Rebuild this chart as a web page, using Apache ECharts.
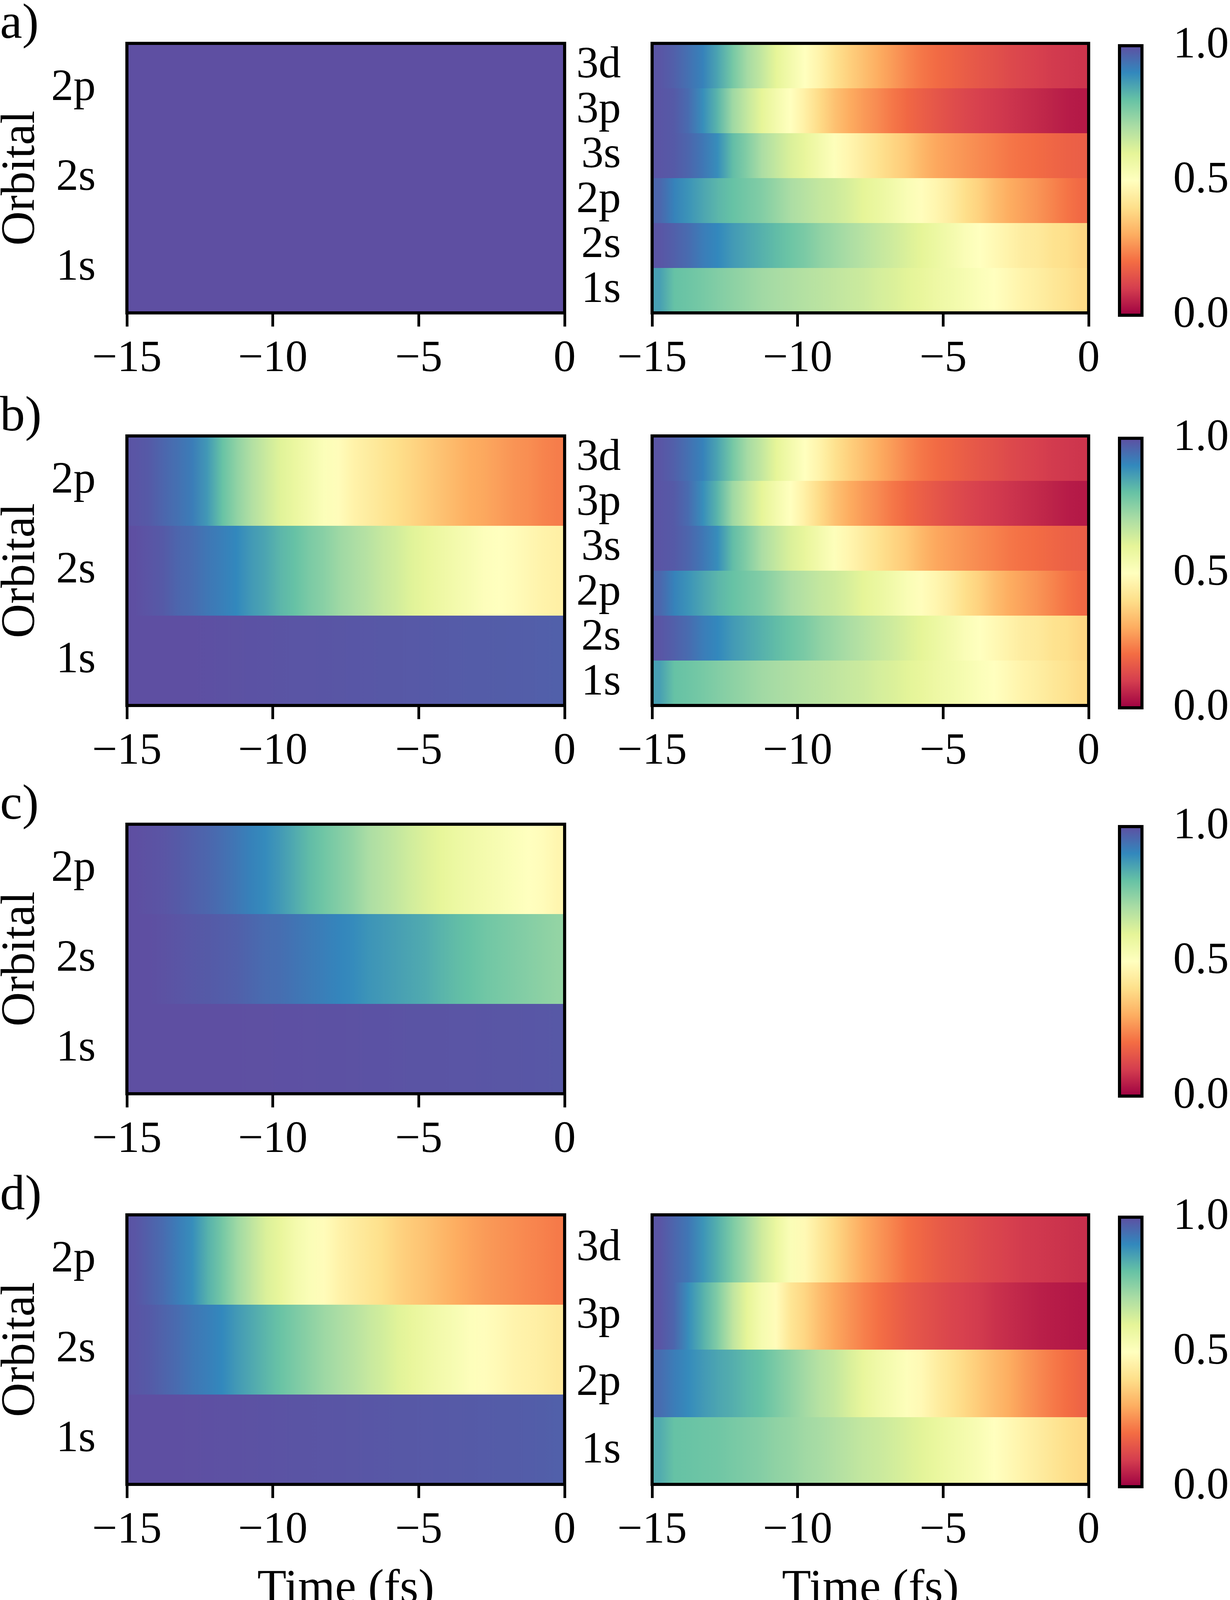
<!DOCTYPE html>
<html>
<head>
<meta charset="utf-8">
<script src="https://cdn.jsdelivr.net/npm/echarts@6/dist/echarts.min.js"></script>
<style>
html, body { margin: 0; padding: 0; background: #fff; }
#chart { width: 3150px; height: 4137px; }
</style>
</head>
<body>
<div id="chart"></div>
<script>
// sample times (fs), read every 0.5 fs
var times = [-14.75, -14.25, -13.75, -13.25, -12.75, -12.25, -11.75, -11.25, -10.75, -10.25,
             -9.75, -9.25, -8.75, -8.25, -7.75, -7.25, -6.75, -6.25, -5.75, -5.25,
             -4.75, -4.25, -3.75, -3.25, -2.75, -2.25, -1.75, -1.25, -0.75, -0.25];
var orbLeft = ['1s', '2s', '2p'];
var orbRight = ['1s', '2s', '2p', '3s', '3p', '3d'];
var orbRightD = ['1s', '2p', '3p', '3d'];
var colorTicks = [0, 0.5, 1];

// a) left
var aL1s = [1, 1, 1, 1, 1, 1, 1, 1, 1, 1, 1, 1, 1, 1, 1, 1, 1, 1, 1, 1, 1, 1, 1, 1, 1, 1, 1, 1, 1, 1];
var aL2s = [1, 1, 1, 1, 1, 1, 1, 1, 1, 1, 1, 1, 1, 1, 1, 1, 1, 1, 1, 1, 1, 1, 1, 1, 1, 1, 1, 1, 1, 1];
var aL2p = [1, 1, 1, 1, 1, 1, 1, 1, 1, 1, 1, 1, 1, 1, 1, 1, 1, 1, 1, 1, 1, 1, 1, 1, 1, 1, 1, 1, 1, 1];

// a) right (b) right reads the same)
var aR1s = [0.86, 0.80, 0.79, 0.775, 0.76, 0.745, 0.73, 0.715, 0.705, 0.695, 0.685, 0.675, 0.665, 0.655, 0.645,
            0.63, 0.62, 0.605, 0.59, 0.57, 0.555, 0.535, 0.515, 0.50, 0.48, 0.46, 0.445, 0.425, 0.41, 0.39];
var aR2s = [0.99, 0.97, 0.95, 0.92, 0.90, 0.87, 0.85, 0.83, 0.81, 0.79, 0.77, 0.74, 0.72, 0.70, 0.68,
            0.66, 0.64, 0.62, 0.60, 0.575, 0.55, 0.52, 0.50, 0.48, 0.46, 0.44, 0.43, 0.41, 0.40, 0.38];
var aR2p = [0.96, 0.91, 0.88, 0.85, 0.82, 0.80, 0.78, 0.76, 0.73, 0.70, 0.68, 0.66, 0.645, 0.625, 0.60,
            0.58, 0.555, 0.525, 0.495, 0.47, 0.44, 0.40, 0.37, 0.33, 0.30, 0.28, 0.26, 0.235, 0.21, 0.19];
var aR3s = [0.99, 0.98, 0.96, 0.93, 0.89, 0.81, 0.76, 0.70, 0.66, 0.62, 0.59, 0.55, 0.51, 0.47, 0.44,
            0.41, 0.38, 0.355, 0.32, 0.29, 0.275, 0.26, 0.245, 0.23, 0.215, 0.205, 0.195, 0.185, 0.175, 0.17];
var aR3p = [0.99, 0.98, 0.95, 0.89, 0.82, 0.72, 0.66, 0.60, 0.55, 0.50, 0.45, 0.39, 0.34, 0.30, 0.27,
            0.245, 0.215, 0.19, 0.17, 0.15, 0.135, 0.12, 0.105, 0.095, 0.085, 0.075, 0.065, 0.055, 0.045, 0.04];
var aR3d = [0.99, 0.97, 0.94, 0.91, 0.85, 0.78, 0.71, 0.66, 0.60, 0.55, 0.50, 0.46, 0.41, 0.37, 0.335,
            0.30, 0.27, 0.24, 0.215, 0.195, 0.18, 0.165, 0.15, 0.14, 0.125, 0.115, 0.105, 0.095, 0.09, 0.085];

// b) left
var bL1s = [1, 1, 1, 1, 1, 0.998, 0.996, 0.995, 0.994, 0.993, 0.992, 0.99, 0.99, 0.989, 0.988,
            0.987, 0.986, 0.985, 0.984, 0.983, 0.982, 0.98, 0.979, 0.978, 0.977, 0.976, 0.975, 0.974, 0.972, 0.97];
var bL2s = [1, 0.99, 0.98, 0.96, 0.95, 0.93, 0.915, 0.90, 0.87, 0.85, 0.82, 0.80, 0.77, 0.75, 0.72,
            0.70, 0.68, 0.655, 0.635, 0.61, 0.59, 0.57, 0.55, 0.53, 0.51, 0.50, 0.49, 0.475, 0.46, 0.45];
var bL2p = [0.99, 0.98, 0.96, 0.94, 0.92, 0.87, 0.80, 0.74, 0.69, 0.65, 0.61, 0.58, 0.55, 0.515, 0.49,
            0.46, 0.44, 0.42, 0.40, 0.38, 0.36, 0.34, 0.32, 0.30, 0.29, 0.275, 0.26, 0.25, 0.235, 0.225];

// c) left
var cL1s = [1, 1, 1, 1, 1, 1, 1, 1, 0.999, 0.999, 0.998, 0.998, 0.997, 0.996, 0.996,
            0.995, 0.994, 0.994, 0.993, 0.992, 0.992, 0.991, 0.99, 0.99, 0.989, 0.988, 0.988, 0.987, 0.986, 0.985];
var cL2s = [1, 1, 0.995, 0.99, 0.985, 0.98, 0.975, 0.97, 0.96, 0.95, 0.945, 0.935, 0.925, 0.915, 0.905,
            0.895, 0.88, 0.87, 0.86, 0.85, 0.84, 0.825, 0.81, 0.80, 0.785, 0.775, 0.765, 0.755, 0.745, 0.735];
var cL2p = [1, 0.995, 0.99, 0.98, 0.97, 0.96, 0.945, 0.93, 0.91, 0.895, 0.87, 0.84, 0.81, 0.785, 0.76,
            0.735, 0.70, 0.68, 0.66, 0.635, 0.615, 0.595, 0.575, 0.56, 0.545, 0.53, 0.515, 0.50, 0.49, 0.47];

// d) left
var dL1s = [1, 1, 1, 1, 0.999, 0.998, 0.997, 0.996, 0.995, 0.994, 0.993, 0.992, 0.991, 0.99, 0.989,
            0.988, 0.987, 0.986, 0.985, 0.984, 0.983, 0.982, 0.981, 0.98, 0.979, 0.978, 0.977, 0.975, 0.973, 0.971];
var dL2s = [0.99, 0.98, 0.965, 0.95, 0.93, 0.915, 0.90, 0.87, 0.845, 0.82, 0.795, 0.77, 0.745, 0.72, 0.70,
            0.68, 0.655, 0.635, 0.61, 0.59, 0.57, 0.55, 0.53, 0.51, 0.495, 0.48, 0.465, 0.455, 0.445, 0.43];
var dL2p = [0.99, 0.97, 0.95, 0.92, 0.89, 0.83, 0.78, 0.72, 0.67, 0.62, 0.59, 0.55, 0.52, 0.49, 0.46,
            0.44, 0.42, 0.40, 0.375, 0.355, 0.34, 0.32, 0.30, 0.285, 0.27, 0.26, 0.25, 0.24, 0.23, 0.22];

// d) right
var dR1s = [0.84, 0.80, 0.795, 0.79, 0.785, 0.775, 0.765, 0.755, 0.74, 0.73, 0.715, 0.705, 0.69, 0.675, 0.66,
            0.65, 0.635, 0.62, 0.605, 0.585, 0.565, 0.545, 0.525, 0.50, 0.48, 0.46, 0.44, 0.42, 0.40, 0.385];
var dR2p = [0.95, 0.92, 0.895, 0.87, 0.85, 0.835, 0.815, 0.80, 0.77, 0.74, 0.71, 0.68, 0.66, 0.625, 0.59,
            0.56, 0.535, 0.51, 0.48, 0.445, 0.415, 0.385, 0.355, 0.325, 0.30, 0.27, 0.245, 0.22, 0.20, 0.18];
var dR3p = [0.99, 0.96, 0.89, 0.83, 0.76, 0.67, 0.60, 0.54, 0.49, 0.42, 0.38, 0.33, 0.29, 0.26, 0.23,
            0.205, 0.18, 0.16, 0.145, 0.13, 0.115, 0.105, 0.095, 0.08, 0.07, 0.06, 0.05, 0.045, 0.04, 0.035];
var dR3d = [0.99, 0.96, 0.93, 0.88, 0.83, 0.77, 0.71, 0.64, 0.58, 0.52, 0.48, 0.43, 0.385, 0.34, 0.295,
            0.265, 0.235, 0.205, 0.185, 0.165, 0.15, 0.14, 0.125, 0.115, 0.105, 0.095, 0.09, 0.085, 0.08, 0.075];

var rowLetters = ['a)', 'b)', 'c)', 'd)'];
var spectral = ['#9e0142', '#d53e4f', '#f46d43', '#fdae61', '#fee08b', '#ffffbf',
                '#e6f598', '#abdda4', '#66c2a5', '#3288bd', '#5e4fa2'];

var panels = [
  { row: 0, side: 'L', cats: orbLeft, rows: [aL1s, aL2s, aL2p] },
  { row: 0, side: 'R', cats: orbRight, rows: [aR1s, aR2s, aR2p, aR3s, aR3p, aR3d] },
  { row: 1, side: 'L', cats: orbLeft, rows: [bL1s, bL2s, bL2p] },
  { row: 1, side: 'R', cats: orbRight, rows: [aR1s, aR2s, aR2p, aR3s, aR3p, aR3d] },
  { row: 2, side: 'L', cats: orbLeft, rows: [cL1s, cL2s, cL2p] },
  { row: 3, side: 'L', cats: orbLeft, rows: [dL1s, dL2s, dL2p] },
  { row: 3, side: 'R', cats: orbRightD, rows: [dR1s, dR2p, dR3p, dR3d] }
];

// layout (px)
var ROW_TOP = [111, 1116, 2110, 3110];
var PANEL_H = 690;
var LEFT_X = 325, LEFT_W = 1121;
var RIGHT_X = 1670, RIGHT_W = 1118;
var CBAR_X = 2867, CBAR_W = 72, CBAR_DY = 6;
var FONT = 'Liberation Serif';
var FS = 114;
var FS_NAME = 122;
var LW = 8;

function fmtTime(v) { return v < 0 ? '\u2212' + Math.abs(v) : String(v); }
function cmap(v) { return echarts.color.lerp(Math.max(0, Math.min(1, v)), spectral); }

var tickStyle = { show: true, length: 35, lineStyle: { width: 7, color: '#000' } };
var labelStyle = { fontFamily: FONT, fontSize: FS, color: '#000' };

// one rect per gap between samples, shaded from one sample's colour to the next
function renderCell(params, api) {
  var t0 = api.value(0), t1 = api.value(1), r = api.value(2);
  var p0 = api.coord([t0, r]), p1 = api.coord([t1, r]);
  var h = api.size([0, 1])[1];
  var x0 = Math.round(p0[0]), x1 = Math.round(p1[0]);
  var y0 = Math.round(p0[1] - h / 2), y1 = Math.round(p0[1] + h / 2);
  return {
    type: 'rect',
    shape: { x: x0, y: y0, width: x1 - x0 + 1, height: y1 - y0 },
    style: { fill: new echarts.graphic.LinearGradient(0, 0, 1, 0, [
      { offset: 0, color: cmap(api.value(3)) }, { offset: 1, color: cmap(api.value(4)) }]) }
  };
}

// colour bar: one rect over the 0..1 range filled with the colormap
function renderBar(params, api) {
  var p0 = api.coord([0, api.value(0)]), p1 = api.coord([1, api.value(1)]);
  var stops = spectral.map(function (c, i) { return { offset: i / (spectral.length - 1), color: c }; });
  return {
    type: 'rect',
    shape: { x: p0[0], y: p1[1], width: p1[0] - p0[0], height: p0[1] - p1[1] },
    style: { fill: new echarts.graphic.LinearGradient(0, 1, 0, 0, stops) }
  };
}

var grids = [], xAxes = [], yAxes = [], series = [], graphics = [];

panels.forEach(function (p, i) {
  var left = p.side === 'L' ? LEFT_X : RIGHT_X;
  var w = p.side === 'L' ? LEFT_W : RIGHT_W;
  grids.push({ left: left, top: ROW_TOP[p.row], width: w, height: PANEL_H, show: true,
    borderColor: '#000', borderWidth: LW, backgroundColor: 'transparent', z: 10 });
  xAxes.push({ gridIndex: i, type: 'value', min: -15, max: 0, interval: 5, position: 'bottom',
    axisLine: { show: false }, splitLine: { show: false }, axisTick: tickStyle,
    axisLabel: Object.assign({ margin: 62, formatter: fmtTime }, labelStyle) });
  yAxes.push({ gridIndex: i, type: 'category', data: p.cats,
    axisLine: { show: false }, splitLine: { show: false },
    axisTick: Object.assign({ alignWithLabel: true, interval: 0 }, tickStyle),
    axisLabel: Object.assign({ margin: 80, interval: 0 }, labelStyle) });
  var data = [];
  p.rows.forEach(function (vals, r) {
    data.push([-15, times[0], r, vals[0], vals[0]]);
    for (var k = 1; k < times.length; k++) {
      data.push([times[k - 1], times[k], r, vals[k - 1], vals[k]]);
    }
    data.push([times[times.length - 1], 0, r, vals[vals.length - 1], vals[vals.length - 1]]);
  });
  series.push({ type: 'custom', xAxisIndex: i, yAxisIndex: i, data: data, renderItem: renderCell,
    encode: { x: [0, 1], y: 2 }, silent: true, clip: true });
});

// colorbars, one per row
for (var r = 0; r < 4; r++) {
  var g = grids.length;
  grids.push({ left: CBAR_X, top: ROW_TOP[r] + CBAR_DY, width: CBAR_W, height: PANEL_H, show: true,
    borderColor: '#000', borderWidth: LW, backgroundColor: 'transparent', z: 10 });
  xAxes.push({ gridIndex: g, type: 'value', min: 0, max: 1, show: false });
  yAxes.push({ gridIndex: g, type: 'value', min: colorTicks[0], max: colorTicks[2], interval: 0.5, position: 'right',
    axisLine: { show: false }, splitLine: { show: false }, axisTick: tickStyle,
    axisLabel: Object.assign({ margin: 80, formatter: function (v) { return v.toFixed(1); } }, labelStyle) });
  series.push({ type: 'custom', xAxisIndex: g, yAxisIndex: g, data: [[colorTicks[0], colorTicks[2]]],
    renderItem: renderBar, encode: { y: [0, 1] }, silent: true });

  graphics.push({ type: 'text', x: 0, y: ROW_TOP[r] - 112,
    style: { text: rowLetters[r], font: '128px "' + FONT + '"', fill: '#000', textAlign: 'left', textVerticalAlign: 'top' } });
  graphics.push({ type: 'text', x: 55, y: ROW_TOP[r] + PANEL_H / 2, rotation: Math.PI / 2,
    style: { text: 'Orbital', font: FS_NAME + 'px "' + FONT + '"', fill: '#000', textAlign: 'center', textVerticalAlign: 'middle' } });
}

graphics.push({ type: 'text', x: LEFT_X + LEFT_W / 2, y: 4070,
  style: { text: 'Time (fs)', font: FS_NAME + 'px "' + FONT + '"', fill: '#000', textAlign: 'center', textVerticalAlign: 'middle' } });
graphics.push({ type: 'text', x: RIGHT_X + RIGHT_W / 2, y: 4070,
  style: { text: 'Time (fs)', font: FS_NAME + 'px "' + FONT + '"', fill: '#000', textAlign: 'center', textVerticalAlign: 'middle' } });

var chart = echarts.init(document.getElementById('chart'));
chart.setOption({
  animation: false,
  backgroundColor: '#fff',
  grid: grids,
  xAxis: xAxes,
  yAxis: yAxes,
  series: series,
  graphic: graphics
});
</script>
</body>
</html>
